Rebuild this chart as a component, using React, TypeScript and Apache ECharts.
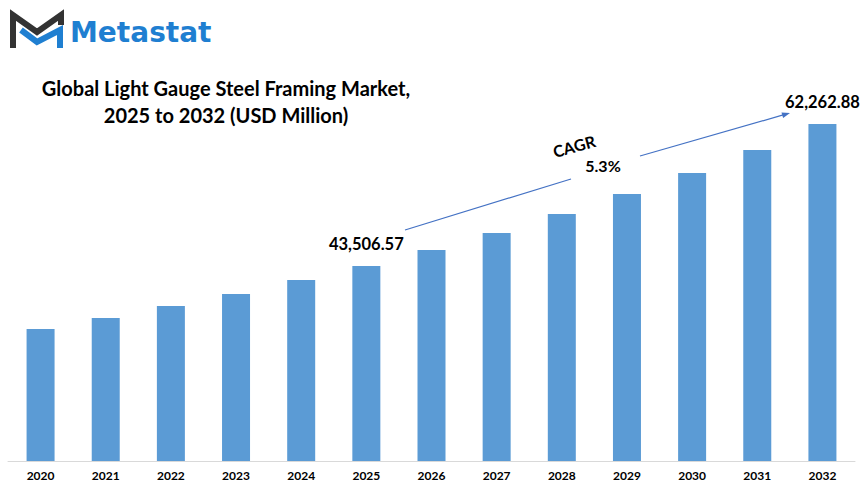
import React, { useEffect, useRef } from "react";
import * as echarts from "echarts";

const years = ["2020","2021","2022","2023","2024","2025","2026","2027","2028","2029","2030","2031","2032"];
const marketValues = [35185, 36638, 38223, 39808, 41657, 43506.57, 45620, 47866, 50375, 53017, 55791, 58829, 62262.88];
const labeledYears = ["2025", "2032"];
const titleLines = ["Global Light Gauge Steel Framing Market,", "2025 to 2032 (USD Million)"];
const cagrText = "CAGR";
const cagrValue = "5.3%";

const fmt = (v: number) => v.toLocaleString("en-US", { minimumFractionDigits: 2, maximumFractionDigits: 2 });

export default function App() {
  const ref = useRef<HTMLDivElement>(null);
  useEffect(() => {
    if (!ref.current) return;
    const chart = echarts.init(ref.current, null, { renderer: "svg" });
    const blue = "#5b9bd5";
    const lineBlue = "#4472c4";
    chart.setOption({
      animation: false,
      backgroundColor: "#ffffff",
      grid: { left: 8, right: 8, top: 100, bottom: 23 },
      xAxis: {
        type: "category",
        data: years,
        axisLine: { lineStyle: { color: "#d9d9d9", width: 1 } },
        axisTick: { show: false },
        axisLabel: { color: "#000", fontWeight: "bold", fontSize: 12, fontFamily: "Lato", margin: 8 },
      },
      yAxis: { type: "value", min: 17750, max: 65430, show: false, splitLine: { show: false } },
      series: [
        {
          type: "bar",
          barWidth: 28,
          itemStyle: { color: blue },
          data: marketValues.map((v, i) => ({
            value: v,
            label: labeledYears.includes(years[i])
              ? {
                  show: true,
                  position: "top",
                  distance: 13,
                  formatter: fmt(v),
                  color: "#000",
                  fontWeight: "bold",
                  fontSize: 16.5,
                  fontFamily: "Lato",
                }
              : { show: false },
          })),
        },
      ],
      graphic: [
        { type: "polyline", shape: { points: [[13, 48], [13, 15], [37, 32], [61, 15], [61, 25]] }, style: { stroke: "#333333", lineWidth: 6, fill: null, lineJoin: "miter" } },
        { type: "polyline", shape: { points: [[21, 30], [37, 42], [60, 30], [60, 48]] }, style: { stroke: "#1f7fd1", lineWidth: 6, fill: null, lineJoin: "miter" } },
        { type: "text", x: 70, y: 32, style: { text: "Metastat", fill: "#1f7fd1", font: "bold 28px 'DejaVu Sans'", textVerticalAlign: "middle" } },
        { type: "text", x: 226, y: 88, style: { text: titleLines[0], fill: "#000", font: "bold 20px Lato", textAlign: "center", textVerticalAlign: "middle" } },
        { type: "text", x: 226, y: 115, style: { text: titleLines[1], fill: "#000", font: "bold 20px Lato", textAlign: "center", textVerticalAlign: "middle" } },
        { type: "line", shape: { x1: 405, y1: 230, x2: 571, y2: 179 }, style: { stroke: lineBlue, lineWidth: 1.2 } },
        { type: "line", shape: { x1: 640, y1: 156, x2: 784, y2: 114.7 }, style: { stroke: lineBlue, lineWidth: 1.2 } },
        { type: "polygon", shape: { points: [[790, 113], [783.1, 118.1], [781.5, 112.4]] }, style: { fill: lineBlue } },
        { type: "text", x: 574, y: 146, rotation: 0.27, style: { text: cagrText, fill: "#000", font: "bold 16px Lato", textAlign: "center", textVerticalAlign: "middle" } },
        { type: "text", x: 603, y: 165, style: { text: cagrValue, fill: "#000", font: "bold 16px Lato", textAlign: "center", textVerticalAlign: "middle" } },
      ],
    });
    return () => chart.dispose();
  }, []);
  return <div ref={ref} style={{ width: 863, height: 484, position: "absolute", left: 0, top: 0 }} />;
}
